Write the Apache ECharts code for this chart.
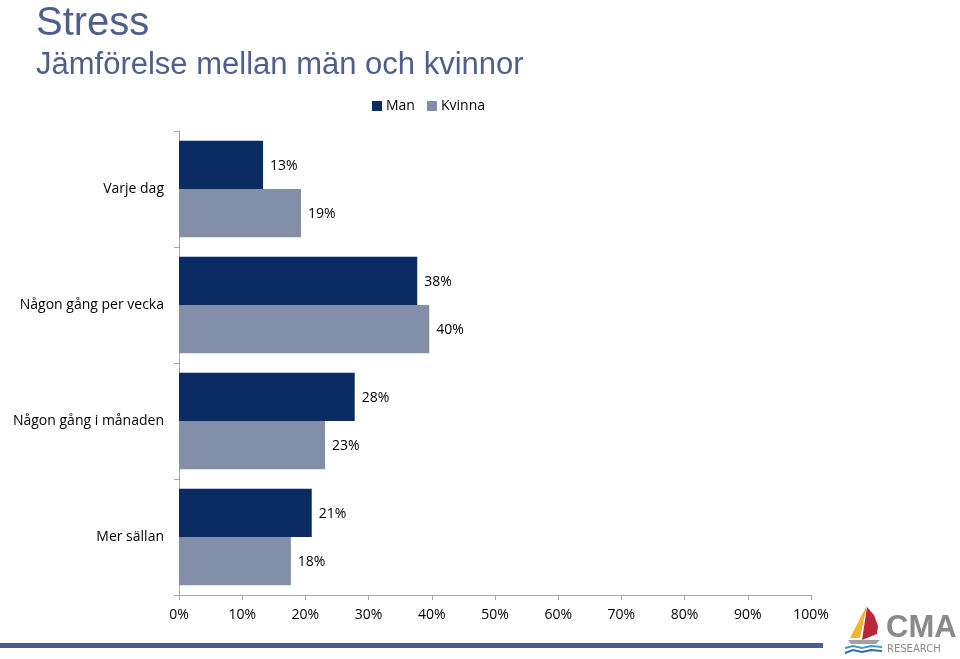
<!DOCTYPE html>
<html><head><meta charset="utf-8">
<script src="https://cdn.jsdelivr.net/npm/echarts@6/dist/echarts.min.js"></script>
<style>html,body{margin:0;padding:0;background:#fff}#c{width:960px;height:659px}</style>
</head><body><div id="c"></div>
<script>
const categories = ['Varje dag', 'Någon gång per vecka', 'Någon gång i månaden', 'Mer sällan'];
const manValues = [13.3, 37.7, 27.8, 21.0];
const kvinnaValues = [19.3, 39.6, 23.1, 17.7];
const xTicks = [0, 10, 20, 30, 40, 50, 60, 70, 80, 90, 100];
const font = '"Open Sans", "Liberation Sans", sans-serif';
const chart = echarts.init(document.getElementById('c'));
chart.setOption({
  animation: false,
  backgroundColor: '#fff',
  title: [
    {text: 'Stress', left: 31, top: -1, textStyle: {fontFamily: 'Liberation Sans, Arial', fontWeight: 'normal', fontSize: 40, color: '#4E5F8C'}},
    {text: 'Jämförelse mellan män och kvinnor', left: 31, top: 45, textStyle: {fontFamily: 'Liberation Sans, Arial', fontWeight: 'normal', fontSize: 31, color: '#4E5F8C'}}
  ],
  legend: {
    data: ['Man', 'Kvinna'], left: 367, top: 94, itemWidth: 10, itemHeight: 10, itemGap: 12,
    icon: 'rect', textStyle: {fontFamily: font, fontSize: 14, color: '#000', padding: [0, 0, 0, -1]}
  },
  grid: {left: 179, right: 149, top: 131, bottom: 64, containLabel: false},
  xAxis: {
    type: 'value', min: 0, max: 100, interval: 10,
    axisLine: {show: true, lineStyle: {color: '#A6A6A6'}},
    axisTick: {show: true, length: 5, lineStyle: {color: '#A6A6A6'}},
    splitLine: {show: false},
    axisLabel: {formatter: v => xTicks.includes(v) ? v + '%' : '', fontFamily: font, fontSize: 14, color: '#000', margin: 13}
  },
  yAxis: {
    type: 'category', data: categories, inverse: true,
    axisLine: {show: true, lineStyle: {color: '#A6A6A6'}},
    axisTick: {show: true, length: 5, lineStyle: {color: '#A6A6A6'}},
    axisLabel: {fontFamily: font, fontSize: 14, color: '#000', margin: 15}
  },
  series: [
    {name: 'Man', type: 'bar', data: manValues, barGap: '0%', barCategoryGap: '17%',
     itemStyle: {color: '#0B2B63'},
     label: {show: true, position: 'right', distance: 7, offset: [0, 1], formatter: p => Math.round(p.value) + '%', fontFamily: font, fontSize: 14, color: '#000'}},
    {name: 'Kvinna', type: 'bar', data: kvinnaValues,
     itemStyle: {color: '#838EA9'},
     label: {show: true, position: 'right', distance: 7, offset: [0, 1], formatter: p => Math.round(p.value) + '%', fontFamily: font, fontSize: 14, color: '#000'}}
  ],
  graphic: [
    {type: 'rect', shape: {x: 0, y: 643, width: 823, height: 5}, style: {fill: '#4A5E8E'}},
    {type: 'polygon', shape: {points: [[867, 605], [850, 638], [860, 638]]}, style: {fill: '#F2B233'}},
    {type: 'polygon', shape: {points: [[867, 607], [874, 615], [878, 626], [877, 634], [862, 640]]}, style: {fill: '#B8283A'}},
    {type: 'polygon', shape: {points: [[848, 640], [880, 640], [876, 644], [851, 644]]}, style: {fill: '#A0A0A0'}},
    {type: 'polyline', shape: {points: [[845, 648], [853, 646], [862, 648], [871, 646], [882, 647]]}, style: {stroke: '#3A9AD0', lineWidth: 2, fill: 'none'}},
    {type: 'polyline', shape: {points: [[845, 653], [853, 650], [862, 652], [871, 650], [882, 651]]}, style: {stroke: '#2E6DA4', lineWidth: 2, fill: 'none'}},
    {type: 'text', x: 886, y: 613, style: {text: 'CMA', font: 'bold 31px "Liberation Sans", Arial', fill: '#8A8A8A'}},
    {type: 'text', x: 887, y: 644, style: {text: 'RESEARCH', font: '10px "DejaVu Sans", sans-serif', fill: '#8A8A8A'}}
  ]
});
</script></body></html>
